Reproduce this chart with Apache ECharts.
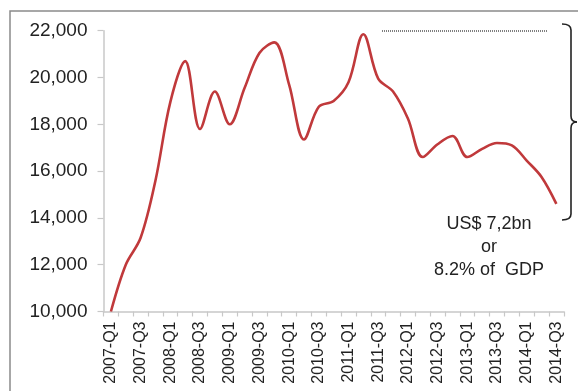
<!DOCTYPE html>
<html>
<head>
<meta charset="utf-8">
<title>Quarterly series 2007–2014</title>
<script src="https://cdn.jsdelivr.net/npm/echarts@6/dist/echarts.min.js"></script>
<style>
  html, body { margin: 0; padding: 0; background: #fff; }
  #chart { width: 578px; height: 391px; }
</style>
</head>
<body>
<div id="chart"></div>
<script>
// Quarter labels 2007-Q1 .. 2014-Q3
const years = [2007, 2008, 2009, 2010, 2011, 2012, 2013, 2014];
const quarters = [];
years.forEach(y => {
  for (let q = 1; q <= 4; q++) {
    if (y === 2014 && q > 3) break;
    quarters.push(y + '-Q' + q);
  }
});

// Series values, one per quarter
const values = [
  10000, 12000, 13150, 15600,   // 2007
  18950, 20700, 17800, 19400,   // 2008
  18000, 19550, 21050, 21500,   // 2009
  19700, 17350, 18750, 19000,   // 2010
  19800, 21850, 19950, 19400,   // 2011
  18250, 16600, 17150, 17500,   // 2012
  16600, 16950, 17200, 17100,   // 2013
  16450, 15750, 14600           // 2014
];

// Value axis range and step
const yMin = 10000;
const yMax = 22000;
const yStep = 2000;

const noteText = 'US$ 7,2bn\nor\n8.2% of  GDP';

const font = '"Liberation Sans", Arial, sans-serif';
const chart = echarts.init(document.getElementById('chart'), null, { renderer: 'canvas' });

const braceStyle = { stroke: '#222', lineWidth: 1.6, fill: null };

chart.setOption({
  animation: false,
  backgroundColor: '#ffffff',
  grid: { left: 103.5, top: 30.7, right: 14.2, bottom: 79.5, containLabel: false },
  xAxis: {
    type: 'category',
    data: quarters,
    boundaryGap: true,
    axisLine: { lineStyle: { color: '#c8c8c8', width: 1.5 } },
    axisTick: { show: true, interval: 0, length: 5, lineStyle: { color: '#c8c8c8', width: 1.2 } },
    axisLabel: {
      interval: 1,
      rotate: 90,
      margin: 10,
      color: '#222',
      fontFamily: font,
      fontSize: 16
    },
    splitLine: { show: false }
  },
  yAxis: {
    type: 'value',
    min: yMin,
    max: yMax,
    interval: yStep,
    axisLine: { show: true, lineStyle: { color: '#c8c8c8', width: 1.5 } },
    axisTick: { show: true, length: 6, lineStyle: { color: '#c8c8c8', width: 1.2 } },
    axisLabel: {
      margin: 16,
      color: '#222',
      fontFamily: font,
      fontSize: 19,
      formatter: v => v.toLocaleString('en-US')
    },
    splitLine: { show: false }
  },
  series: [{
    type: 'line',
    data: values,
    smooth: 0.35,
    symbol: 'none',
    lineStyle: { color: '#c0393b', width: 2.6 }
  }],
  graphic: [
    // outer frame (left and top edges)
    {
      type: 'polyline',
      shape: { points: [[10, 391], [10, 11], [578, 11]] },
      style: { stroke: '#8a8a8a', lineWidth: 1.5, fill: null }
    },
    // dotted reference line at the top
    {
      type: 'line',
      shape: { x1: 382, y1: 31, x2: 547, y2: 31 },
      style: { stroke: '#555', lineWidth: 1.5, lineDash: [1, 1] }
    },
    // curly brace on the right
    { type: 'bezierCurve', shape: { x1: 562, y1: 24, cpx1: 571, cpy1: 24, x2: 571, y2: 30 }, style: braceStyle },
    { type: 'line', shape: { x1: 571, y1: 30, x2: 571, y2: 116 }, style: braceStyle },
    { type: 'bezierCurve', shape: { x1: 571, y1: 116, cpx1: 571, cpy1: 122, x2: 577, y2: 122 }, style: braceStyle },
    { type: 'bezierCurve', shape: { x1: 577, y1: 122, cpx1: 571, cpy1: 122, x2: 571, y2: 128 }, style: braceStyle },
    { type: 'line', shape: { x1: 571, y1: 128, x2: 571, y2: 214 }, style: braceStyle },
    { type: 'bezierCurve', shape: { x1: 571, y1: 214, cpx1: 571, cpy1: 220, x2: 562, y2: 220 }, style: braceStyle },
    // note text
    {
      type: 'text',
      x: 489,
      y: 247,
      style: {
        text: noteText,
        fill: '#222',
        font: '18px ' + font,
        align: 'center',
        verticalAlign: 'middle',
        lineHeight: 23
      }
    }
  ]
});
</script>
</body>
</html>
